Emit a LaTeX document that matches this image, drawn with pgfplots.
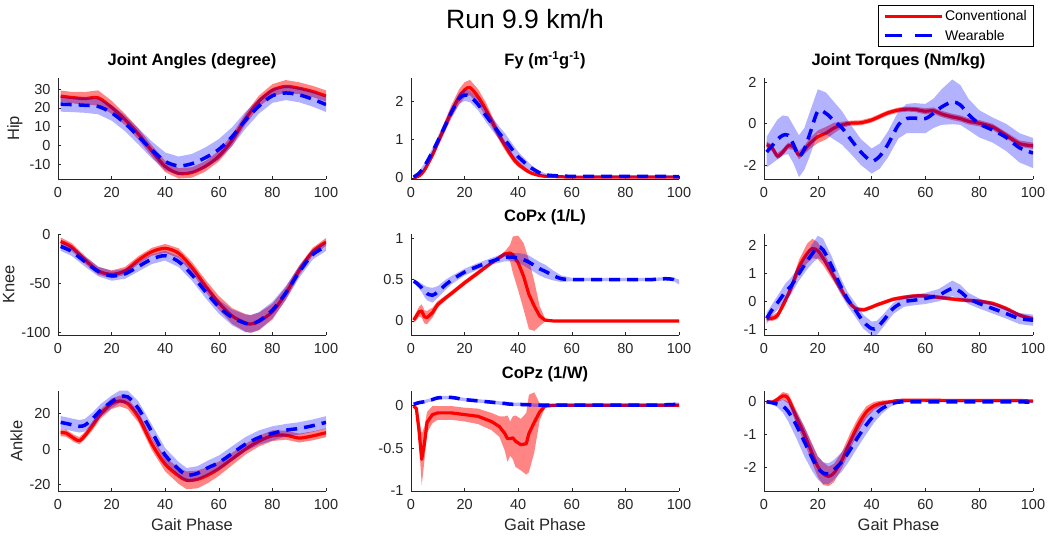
\documentclass[border=0pt]{standalone}
\usepackage{fontspec}
\setmainfont{Liberation Sans}
\usepackage{pgfplots}
\usepackage{pgfplotstable}
\pgfplotsset{compat=1.18}

\pgfplotstableread{
x cm cs wm ws
1 26.3 3.0 22.0 4.0
5 25.6 3.0 21.8 4.0
10 25.0 3.5 21.4 4.0
15 25.4 4.0 20.8 4.2
20 20.3 3.5 17.4 4.2
25 13.8 3.0 11.8 4.2
30 6.0 3.0 4.8 4.3
35 -3.0 3.0 -2.4 4.5
40 -11.3 3.0 -8.6 4.8
45 -15.0 2.8 -11.0 5.0
50 -14.5 2.8 -9.8 5.2
55 -11.2 2.8 -6.6 5.5
60 -5.8 2.8 -2.2 5.5
65 2.8 3.0 4.7 5.0
70 14.2 3.0 13.5 4.5
75 23.6 3.0 21.0 4.0
80 29.5 3.2 26.5 3.8
85 31.5 3.4 28.0 3.8
90 30.5 3.2 27.0 4.0
95 28.8 3.0 24.7 4.0
100 26.4 3.0 21.8 4.0
}\TA

\pgfplotstableread{
x cm cs wm ws
1 0.00 0.01 0.02 0.02
3 0.05 0.03 0.12 0.05
5 0.20 0.06 0.30 0.08
8 0.60 0.10 0.68 0.10
10 0.92 0.12 0.96 0.12
13 1.40 0.15 1.40 0.12
15 1.72 0.17 1.70 0.12
18 2.12 0.20 2.08 0.14
20 2.30 0.20 2.16 0.15
22 2.36 0.20 2.13 0.15
25 2.12 0.20 1.92 0.15
28 1.78 0.18 1.62 0.16
30 1.50 0.15 1.44 0.17
33 1.10 0.13 1.16 0.17
35 0.85 0.12 1.00 0.17
38 0.52 0.10 0.72 0.15
40 0.36 0.08 0.55 0.13
43 0.20 0.06 0.36 0.10
45 0.12 0.04 0.25 0.08
48 0.06 0.03 0.13 0.05
50 0.04 0.02 0.08 0.04
55 0.03 0.01 0.05 0.02
60 0.02 0.01 0.04 0.01
70 0.02 0.01 0.04 0.01
80 0.02 0.01 0.04 0.01
90 0.02 0.01 0.04 0.01
100 0.02 0.01 0.03 0.01
}\TB

\pgfplotstableread{
x cm cs wm ws
1 -1.00 0.15 -1.35 0.73
3 -1.15 0.15 -1.05 0.85
5 -1.55 0.15 -0.75 0.95
7 -1.35 0.15 -0.55 0.95
9 -1.05 0.15 -0.55 0.90
11 -1.10 0.15 -1.00 0.90
13 -1.50 0.20 -1.55 1.00
15 -1.25 0.20 -1.20 1.00
17 -0.95 0.25 -0.50 1.05
20 -0.62 0.30 0.60 1.05
23 -0.45 0.30 0.50 1.00
26 -0.20 0.25 0.15 0.90
29 -0.05 0.15 -0.20 0.80
32 0.03 0.12 -0.70 0.70
36 0.05 0.12 -1.35 0.62
40 0.18 0.12 -1.78 0.60
43 0.35 0.12 -1.55 0.60
46 0.52 0.12 -1.00 0.62
50 0.66 0.12 -0.05 0.65
53 0.70 0.12 0.25 0.70
56 0.69 0.12 0.27 0.72
60 0.60 0.15 0.25 0.70
63 0.63 0.15 0.50 0.70
66 0.47 0.15 0.80 0.85
70 0.33 0.15 1.05 1.07
73 0.25 0.15 0.90 0.95
76 0.12 0.15 0.45 0.75
80 0.03 0.15 0.00 0.65
85 -0.15 0.15 -0.30 0.60
90 -0.55 0.15 -0.65 0.65
95 -0.95 0.15 -1.15 0.70
100 -1.05 0.15 -1.40 0.72
}\TC

\pgfplotstableread{
x cm cs wm ws
1 -7.5 4 -12.6 4.5
5 -13.0 4 -17.5 4.5
10 -26.0 4 -28.0 5
15 -37.5 4 -38.0 5
20 -41.0 4 -42.5 5
25 -37.5 4 -40.5 5
30 -26.5 4 -33.0 5
35 -18.0 4 -25.5 5
40 -14.5 4.5 -22.0 5
45 -19.5 5 -28.0 5.5
50 -34.0 5.5 -41.5 6
55 -52.5 6 -58.5 6.5
60 -70.0 7 -74.0 7
65 -83.5 8 -85.0 8
70 -90.5 9 -91.0 9
72 -91.5 9 -91.5 9
75 -89.0 9 -88.5 9
80 -79.0 8 -77.5 8.5
85 -60.5 6.5 -60.0 7
90 -37.0 5 -38.5 6
95 -18.0 4 -21.0 5
100 -8.0 4 -12.6 4.5
}\TD

\pgfplotstableread{
x cm cs wm ws
1 0.01 0.03 0.48 0.03
2 0.06 0.05 0.46 0.03
3 0.11 0.06 0.43 0.04
4 0.12 0.08 0.40 0.05
5 0.05 0.08 0.36 0.07
6 0.04 0.08 0.33 0.08
8 0.10 0.06 0.31 0.09
10 0.20 0.04 0.35 0.07
13 0.28 0.03 0.44 0.06
15 0.33 0.03 0.49 0.05
20 0.46 0.03 0.59 0.04
25 0.58 0.03 0.66 0.04
30 0.70 0.02 0.72 0.04
35 0.81 0.03 0.77 0.05
37 0.82 0.10 0.77 0.05
38 0.80 0.22 0.77 0.05
40 0.70 0.33 0.76 0.06
42 0.54 0.40 0.74 0.07
44 0.32 0.42 0.71 0.08
46 0.18 0.30 0.67 0.08
48 0.06 0.12 0.63 0.08
50 0.01 0.02 0.60 0.08
53 0.00 0.01 0.55 0.06
56 0.00 0.01 0.51 0.04
60 0.00 0.01 0.50 0.02
70 0.00 0.01 0.50 0.02
80 0.00 0.01 0.50 0.02
90 0.00 0.01 0.50 0.02
95 0.00 0.01 0.51 0.02
98 0.00 0.01 0.50 0.02
100 0.00 0.01 0.47 0.03
}\TE

\pgfplotstableread{
x cm cs wm ws
1 -0.60 0.10 -0.60 0.20
3 -0.60 0.10 -0.30 0.20
5 -0.50 0.12 -0.05 0.25
8 0.05 0.15 0.35 0.30
10 0.47 0.15 0.55 0.30
13 1.24 0.25 1.00 0.25
16 1.72 0.35 1.45 0.30
18 1.90 0.35 1.72 0.35
20 1.82 0.30 1.96 0.40
22 1.55 0.25 1.85 0.40
25 1.05 0.20 1.30 0.35
28 0.55 0.15 0.65 0.30
31 0.05 0.10 0.10 0.25
34 -0.25 0.07 -0.31 0.25
37 -0.30 0.07 -0.73 0.25
40 -0.20 0.07 -0.97 0.25
42 -0.12 0.07 -0.94 0.25
45 -0.02 0.07 -0.61 0.22
48 0.08 0.07 -0.25 0.20
52 0.15 0.07 -0.01 0.18
56 0.20 0.07 0.05 0.18
60 0.20 0.07 0.11 0.20
65 0.15 0.07 0.23 0.22
70 0.09 0.07 0.47 0.28
73 0.06 0.07 0.35 0.25
76 0.04 0.07 0.11 0.20
80 0.01 0.07 -0.07 0.18
85 -0.07 0.07 -0.25 0.18
90 -0.25 0.07 -0.43 0.18
95 -0.49 0.07 -0.61 0.20
100 -0.62 0.07 -0.67 0.20
}\TF

\pgfplotstableread{
x cm cs wm ws
1 9.2 2.0 15.0 3.5
3 9.0 2.0 14.4 3.5
6 6.0 2.0 13.4 3.5
8 4.7 2.0 12.8 3.5
10 7.5 2.0 13.4 3.5
13 13.4 2.5 17.2 3.5
16 19.8 2.5 21.9 3.5
20 25.5 3.0 26.5 3.5
23 27.0 3.0 29.3 3.5
26 25.5 3.0 29.3 3.5
30 18.0 3.0 22.8 4.0
35 3.0 3.5 9.7 4.0
40 -8.5 4.0 -3.4 4.0
45 -15.0 4.5 -11.2 4.0
48 -17.5 5.0 -14.6 4.0
52 -17.0 5.0 -13.6 4.0
56 -14.5 4.5 -10.4 4.0
60 -11.0 4.0 -7.6 4.0
65 -5.5 3.5 -2.4 4.0
70 0.0 3.0 2.8 4.0
75 4.5 3.0 6.5 4.0
80 7.5 3.0 8.8 4.0
85 7.8 2.5 10.6 3.5
90 6.2 2.5 11.6 3.5
95 7.4 2.5 13.1 3.5
100 9.2 2.5 15.0 3.5
}\TG

\pgfplotstableread{
x cm cs wm ws
1 -0.01 0.01 0.01 0.02
2 -0.04 0.03 0.02 0.02
3 -0.30 0.15 0.03 0.02
4 -0.63 0.30 0.035 0.02
5 -0.45 0.20 0.04 0.02
6 -0.20 0.12 0.05 0.02
8 -0.11 0.10 0.065 0.02
10 -0.09 0.08 0.085 0.02
15 -0.09 0.08 0.09 0.02
20 -0.11 0.08 0.065 0.02
25 -0.13 0.09 0.05 0.02
30 -0.19 0.10 0.035 0.02
33 -0.25 0.12 0.025 0.02
35 -0.33 0.20 0.02 0.02
36 -0.39 0.27 0.015 0.02
37 -0.39 0.20 0.012 0.02
38 -0.38 0.25 0.01 0.02
39 -0.42 0.30 0.01 0.02
41 -0.46 0.30 0.008 0.02
43 -0.45 0.36 0.005 0.02
44 -0.33 0.45 0.005 0.02
46 -0.20 0.35 0.0 0.02
48 -0.08 0.10 0.0 0.02
50 -0.01 0.02 0.0 0.02
55 0.0 0.01 0.0 0.02
60 0.0 0.01 0.0 0.02
70 0.0 0.01 0.0 0.02
80 0.0 0.01 0.0 0.02
90 0.0 0.01 0.0 0.02
100 0.0 0.01 0.01 0.02
}\TH

\pgfplotstableread{
x cm cs wm ws
1 0.00 0.02 0.00 0.03
3 -0.01 0.04 -0.03 0.05
5 0.07 0.08 -0.07 0.10
7 0.18 0.12 -0.13 0.20
9 0.10 0.15 -0.30 0.30
12 -0.46 0.20 -0.71 0.40
15 -1.00 0.25 -1.22 0.45
18 -1.60 0.30 -1.73 0.40
20 -1.98 0.32 -2.03 0.35
22 -2.20 0.35 -2.18 0.33
24 -2.28 0.30 -2.20 0.32
26 -2.18 0.28 -2.08 0.30
29 -1.78 0.25 -1.83 0.30
32 -1.22 0.25 -1.47 0.30
35 -0.71 0.22 -1.07 0.30
38 -0.32 0.18 -0.71 0.28
41 -0.12 0.12 -0.41 0.22
44 -0.04 0.08 -0.20 0.15
47 0.00 0.05 -0.07 0.08
50 0.04 0.04 -0.01 0.03
55 0.05 0.03 0.00 0.02
60 0.05 0.03 0.00 0.02
70 0.04 0.03 0.00 0.02
80 0.04 0.03 0.00 0.02
90 0.04 0.03 0.00 0.02
95 0.04 0.03 0.00 0.02
100 0.02 0.03 -0.02 0.02
}\TI

\pgfplotsset{
  panel/.style={
    scale only axis, anchor=south west,
    xmin=0, xmax=100, xtick={0,20,...,100},
    axis x line*=bottom, axis y line*=left,
    axis line style={-, black!85, line width=0.6pt},
    tick align=inside, major tick length=3pt,
    tick style={black!85, line width=0.6pt},
    ticklabel style={font=\fontsize{14.5}{16}\selectfont, text=black!85},
    /pgf/number format/assume math mode=true,
    xticklabel style={yshift=-5pt},
    yticklabel style={xshift=-4pt},
    title style={font=\bfseries\fontsize{16.5}{19}\selectfont, at={(0.5,1)}, anchor=base, yshift=6pt},
    label style={font=\fontsize{16.5}{19}\selectfont, text=black!85},
    xlabel style={yshift=-2pt},
    reverse stacked plots=false,
  },
  base/.style={draw=none, forget plot, stack plots=y, mark=none},
  cband/.style={draw=none, fill=red, fill opacity=0.48, forget plot, stack plots=y, mark=none},
  wband/.style={draw=none, fill=blue, fill opacity=0.3, forget plot, stack plots=y, mark=none},
  cline/.style={red, line width=3.2pt, forget plot, mark=none, stack plots=false, line join=round},
  wline/.style={blue, line width=3.5pt, dash pattern=on 11pt off 7pt, forget plot, mark=none, stack plots=false, smooth},
}

\newcommand{\panel}[2][smooth]{%
  \addplot[base] table[x=x, y expr=\thisrow{cm}-\thisrow{cs}]{#2};
  \addplot[cband] table[x=x, y expr=2*\thisrow{cs}]{#2} \closedcycle;
  \addplot[cline,#1] table[x=x, y=cm]{#2};
  \addplot[base] table[x=x, y expr=\thisrow{wm}-\thisrow{ws}-\thisrow{cm}-\thisrow{cs}]{#2};
  \addplot[wband] table[x=x, y expr=2*\thisrow{ws}]{#2} \closedcycle;
  \addplot[wline] table[x=x, y=wm]{#2};
}

\begin{document}
\begin{tikzpicture}
\path[use as bounding box] (0pt,0pt) rectangle (1053pt,541pt);
\node[anchor=base, font=\fontsize{26.5}{30}\selectfont, text=black] at (525pt,512.7pt) {Run 9.9 km/h};

% Row 1
\begin{axis}[panel, at={(58pt,362pt)}, width=268pt, height=101pt,
  ymin=-18, ymax=36, ytick={-10,0,10,20,30},
  title={Joint Angles (degree)}, ylabel={Hip}]
\panel{\TA}
\end{axis}

\begin{axis}[panel, at={(411pt,362pt)}, width=268pt, height=101pt,
  ymin=-0.03, ymax=2.61, ytick={0,1,2},
  title={Fy (m\textsuperscript{-1}g\textsuperscript{-1})}]
\panel{\TB}
\end{axis}

\begin{axis}[panel, at={(764pt,362pt)}, width=269pt, height=101pt,
  ymin=-2.64, ymax=2.19, ytick={-2,0,2},
  title={Joint Torques (Nm/kg)},
  legend style={at={(1.004,1.723)}, anchor=north east, draw=black, line width=0.6pt,
    fill=white, font=\fontsize{14}{16}\selectfont, inner xsep=5pt, inner ysep=3pt,
    row sep=4pt, cells={anchor=west}},
  legend cell align=left]
\panel{\TC}
\addlegendimage{legend image code/.code={\draw[red, line width=3pt] (0pt,0pt) -- (57pt,0pt);}}
\addlegendentry{Conventional}
\addlegendimage{legend image code/.code={\draw[blue, line width=3pt, dash pattern=on 17pt off 13pt] (0pt,0pt) -- (47pt,0pt);}}
\addlegendentry{Wearable}
\end{axis}

% Row 2
\begin{axis}[panel, at={(58pt,206pt)}, width=268pt, height=101pt,
  ymin=-102.8, ymax=0.1, ytick={-100,-50,0},
  ylabel={Knee}]
\panel{\TD}
\end{axis}

\begin{axis}[panel, at={(411pt,206pt)}, width=268pt, height=101pt,
  ymin=-0.17, ymax=1.05, ytick={0,0.5,1},
  title={CoPx (1/L)}]
\panel[sharp plot]{\TE}
\end{axis}

\begin{axis}[panel, at={(764pt,206pt)}, width=269pt, height=101pt,
  ymin=-1.2, ymax=2.42, ytick={-1,0,1,2}]
\panel{\TF}
\end{axis}

% Row 3
\begin{axis}[panel, at={(58pt,50pt)}, width=268pt, height=100pt,
  ymin=-23.5, ymax=32.6, ytick={-20,0,20},
  ylabel={Ankle}, xlabel={Gait Phase}]
\panel{\TG}
\end{axis}

\begin{axis}[panel, at={(411pt,50pt)}, width=268pt, height=100pt,
  ymin=-1, ymax=0.165, ytick={-1,-0.5,0},
  title={CoPz (1/W)}, xlabel={Gait Phase}]
\panel[sharp plot]{\TH}
\end{axis}

\begin{axis}[panel, at={(764pt,50pt)}, width=269pt, height=100pt,
  ymin=-2.73, ymax=0.33, ytick={-2,-1,0},
  xlabel={Gait Phase}]
\panel{\TI}
\end{axis}
\end{tikzpicture}
\end{document}
